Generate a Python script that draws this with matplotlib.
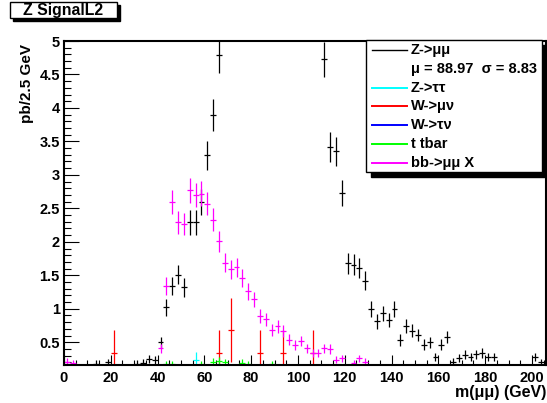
import numpy as np
import matplotlib
matplotlib.use("Agg")
import matplotlib.pyplot as plt
from matplotlib.patches import Rectangle
from matplotlib.lines import Line2D

# ---- data (pb / 2.5 GeV bins) ----
bin_width = 2.5
centers = np.arange(1.25, 205, bin_width)  # 82 bins, 1.25 ... 203.75

# Z->mumu, one value per bin (bins above 5 are off scale)
zmumu = [0, 0, 0, 0, 0, 0.18, 0, 0.20, 0, 0,
         0, 0, 0.18, 0.19, 0.25, 0.24, 0.50, 1.02, 1.34, 1.51,
         1.32, 2.29, 2.29, 2.59, 3.29, 3.89, 4.79, 6.5, 8.2, 10.5,
         13.4, 16.8, 20.1, 23.0, 25.2, 26.0, 25.1, 22.6, 19.3, 15.6,
         12.3, 9.4, 7.1, 5.6, 4.73, 3.42, 3.35, 2.73, 1.68, 1.66,
         1.61, 1.42, 0.99, 0.81, 0.93, 0.83, 0.99, 0.53, 0.74, 0.67,
         0.61, 0.46, 0.50, 0.28, 0.46, 0.58, 0.21, 0.26, 0.31, 0.28,
         0.32, 0.34, 0.28, 0.28, 0, 0, 0, 0, 0, 0,
         0.28, 0.20]

# bb->mumu X, one value per bin
bbmumu = [0.21, 0.19, 0, 0, 0, 0, 0, 0, 0, 0,
          0, 0, 0, 0, 0, 0, 0.41, 1.34, 2.59, 2.29,
          2.26, 2.77, 2.70, 2.72, 2.57, 2.33, 2.01, 1.69, 1.59, 1.62,
          1.46, 1.26, 1.14, 0.89, 0.84, 0.68, 0.74, 0.67, 0.54, 0.46,
          0.52, 0.41, 0.34, 0.34, 0.41, 0.40, 0.24, 0.26, 0, 0.19,
          0.26, 0.21, 0, 0, 0, 0, 0, 0, 0, 0,
          0, 0, 0, 0, 0, 0, 0, 0, 0, 0,
          0, 0, 0, 0, 0, 0, 0, 0, 0, 0,
          0, 0]

# sparse samples: bin centre -> value
wmunu_x = [21.25, 66.25, 71.25, 83.75, 93.75, 106.25]
wmunu_y = [0.34, 0.34, 0.68, 0.34, 0.34, 0.34]

ztautau_x = [56.25]
ztautau_y = [0.24]

wtaunu_x = []
wtaunu_y = []

ttbar_x = [43.75, 46.25, 58.75, 63.75, 66.25, 68.75, 76.25, 78.75, 88.75]
ttbar_y = [0.17, 0.17, 0.17, 0.21, 0.22, 0.20, 0.19, 0.17, 0.17]

# per-event weights, used for the sqrt(sum w^2) errors
weights = {"zmumu": 0.0144, "bb": 0.0121, "wmunu": 0.34,
           "ztautau": 0.06, "wtaunu": 0.34, "ttbar": 0.0144}

legend_labels = ["Z->\u03bc\u03bc", "\u03bc = 88.97  \u03c3 = 8.83", "Z->\u03c4\u03c4",
                 "W->\u03bc\u03bd", "W->\u03c4\u03bd", "t tbar", "bb->\u03bc\u03bc X"]
legend_colors = ["black", None, "#00ffff", "#ff0000", "#0000ff", "#00ff00", "#ff00ff"]

W, H = 547, 403
plt.rcParams["font.family"] = ["Liberation Sans", "DejaVu Sans"]
plt.rcParams["font.weight"] = "bold"

fig = plt.figure(figsize=(W / 100, H / 100), dpi=100)


def fx(x):
    return x / W


def fy(y):
    return 1 - y / H


left, right, top, bottom = 64, 546, 41, 365
ax = fig.add_axes([fx(left), fy(bottom), fx(right - left), (bottom - top) / H])


def draw(x, y, w, color):
    x = np.asarray(x, float)
    y = np.asarray(y, float)
    keep = y > 0
    if not keep.any():
        return
    err = np.sqrt(y[keep] * w)
    ax.errorbar(x[keep], y[keep], yerr=err, xerr=bin_width / 2, fmt="none",
                ecolor=color, elinewidth=0.9, capsize=0)


draw(centers, zmumu, weights["zmumu"], "black")
draw(ztautau_x, ztautau_y, weights["ztautau"], "#00ffff")
draw(wmunu_x, wmunu_y, weights["wmunu"], "#ff0000")
draw(wtaunu_x, wtaunu_y, weights["wtaunu"], "#0000ff")
draw(ttbar_x, ttbar_y, weights["ttbar"], "#00ff00")
draw(centers, bbmumu, weights["bb"], "#ff00ff")

ax.set_xlim(0, 206)
ax.set_ylim(0.16, 5.0)
ax.set_xticks(np.arange(0, 201, 20))
ax.set_xticks(np.arange(0, 206, 5), minor=True)
ax.set_yticks(np.arange(0.5, 5.01, 0.5))
ax.set_yticks(np.arange(0.2, 5.01, 0.1), minor=True)
ax.set_yticklabels(["0.5", "1", "1.5", "2", "2.5", "3", "3.5", "4", "4.5", "5"])
ax.tick_params(axis="x", which="major", direction="in", length=7, width=0.8,
               labelsize=10.5, pad=4, top=False)
ax.tick_params(axis="x", which="minor", direction="in", length=3.6, width=0.8, top=False)
ax.tick_params(axis="y", which="major", direction="in", length=10.5, width=0.8,
               labelsize=10.5, pad=3, right=False)
ax.tick_params(axis="y", which="minor", direction="in", length=5, width=0.8, right=False)
for lab in ax.get_xticklabels() + ax.get_yticklabels():
    lab.set_fontweight("bold")
for s in ax.spines.values():
    s.set_linewidth(1.5)

fig.text(fx(27), fy(44), "pb/2.5 GeV", rotation=90, ha="center", va="top",
         fontsize=11, fontweight="bold")
fig.text(fx(546), fy(392), "m(\u03bc\u03bc) (GeV)", ha="right", va="center",
         fontsize=11.5, fontweight="bold")

# title box with shadow
fig.add_artist(Rectangle((fx(13), fy(21)), fx(107), 16 / H, transform=fig.transFigure,
                         facecolor="black", edgecolor="black", zorder=5))
fig.add_artist(Rectangle((fx(10), fy(18)), fx(107), 16 / H, transform=fig.transFigure,
                         facecolor="white", edgecolor="black", linewidth=1, zorder=6))
fig.text(fx(63.5), fy(10), "Z SignalL2", ha="center", va="center", fontsize=11.4,
         fontweight="bold", zorder=7)

# legend box with shadow
lx0, ly0, lx1, ly1 = 366, 40, 542, 172
fig.add_artist(Rectangle((fx(lx0 + 5), fy(ly1 + 5)), fx(lx1 - lx0), (ly1 - ly0) / H,
                         transform=fig.transFigure, facecolor="black", edgecolor="black",
                         zorder=5))
fig.add_artist(Rectangle((fx(lx0), fy(ly1)), fx(lx1 - lx0), (ly1 - ly0) / H,
                         transform=fig.transFigure, facecolor="white", edgecolor="black",
                         linewidth=1, zorder=6))
for i, (lab, col) in enumerate(zip(legend_labels, legend_colors)):
    yy = 50 + 18.8 * i
    if col is not None:
        fig.add_artist(Line2D([fx(372), fx(407)], [fy(yy), fy(yy)], transform=fig.transFigure,
                              color=col, linewidth=1.4 if col != "black" else 1.0, zorder=7))
    fig.text(fx(411), fy(yy), lab, ha="left", va="center", fontsize=10.5,
             fontweight="bold", zorder=7)

fig.savefig("out.png", dpi=100)
